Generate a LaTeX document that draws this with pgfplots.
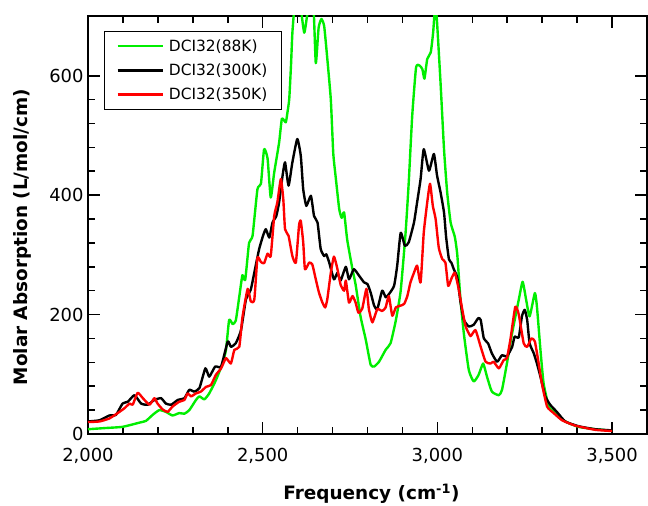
\documentclass[border=0pt]{standalone}
\usepackage{fontspec}
\setmainfont{DejaVu Sans}
\usepackage{pgfplots}
\pgfplotsset{compat=1.18}
\definecolor{cgreen}{RGB}{0,238,0}
\definecolor{cred}{RGB}{255,0,0}
\begin{document}
\begin{tikzpicture}
\useasboundingbox (-88bp,-72bp) rectangle (560bp,434bp);
\begin{axis}[
  at={(0,0)}, anchor=south west,
  scale only axis, width=559bp, height=418bp,
  xmin=2000, xmax=3600, ymin=0, ymax=700,
  xtick={2000,2500,3000,3500}, ytick={0,200,400,600},
  minor x tick num=4, minor y tick num=4,
  tick align=inside,
  major tick length=12bp, minor tick length=7bp,
  every tick/.style={line width=1.6pt, black},
  axis line style={line width=1.6pt},
  /pgf/number format/.cd, 1000 sep={,}, assume math mode=true, /pgfplots/.cd,
  tick label style={font=\fontsize{18}{21}\selectfont},
  xticklabel style={yshift=-11bp},
  yticklabel style={xshift=-1bp},
  xlabel={\textbf{Frequency (cm\textsuperscript{-1})}},
  ylabel={\textbf{Molar Absorption (L/mol/cm)}},
  label style={font=\fontsize{18.5}{22}\selectfont},
  xlabel style={at={(rel axis cs:0.507,0)}, anchor=center, yshift=-60bp},
  ylabel style={at={(rel axis cs:0,0.471)}, anchor=center, xshift=0bp, yshift=66bp},
  legend style={at={(rel axis cs:0.0286,0.964)}, anchor=north west,
    draw=black, line width=0.8pt, font=\fontsize{15.5}{18}\selectfont,
    inner xsep=12bp, inner ysep=6bp, row sep=7bp, cells={anchor=west}},
  legend image code/.code={\draw[#1, line width=2.6pt] (0bp,0bp) -- (45bp,0bp); \path (48bp,0bp);},
  every axis plot/.append style={line width=2.4pt, line join=round, smooth, tension=0.3},
]
\addplot[cgreen] coordinates {
(2000,8)(2050,10)(2099,12)(2147,19)(2166,22)(2185,32)(2204,40)(2223,37)(2242,31)(2261,35)
(2276,34)(2290,40)(2309,57)(2319,63)(2333,58)(2347,68)(2366,90)(2385,118)(2395,141)(2404,191)
(2414,184)(2423,190)(2433,230)(2442,266)(2450,258)(2461,320)(2471,332)(2485,410)(2495,419)(2504,477)
(2514,461)(2523,396)(2533,438)(2547,488)(2555,528)(2566,522)(2571,539)(2576,561)(2581,617)(2585,672)
(2592,720)(2605,730)(2619,672)(2632,720)(2645,720)(2652,621)(2660,680)(2668,695)(2676,683)(2685,628)
(2695,560)(2702,470)(2709,430)(2719,377)(2726,362)(2733,371)(2742,325)(2757,276)(2766,250)(2780,197)
(2795,158)(2809,116)(2819,113)(2833,121)(2852,141)(2866,152)(2881,190)(2895,240)(2909,337)(2918,421)
(2928,533)(2939,614)(2949,617)(2957,611)(2963,595)(2971,628)(2981,639)(2988,673)(2994,720)(2999,690)
(3009,589)(3019,477)(3028,405)(3038,354)(3050,330)(3057,300)(3066,226)(3076,167)(3090,107)(3104,88)
(3118,99)(3131,118)(3142,96)(3156,71)(3176,65)(3185,74)(3199,118)(3214,169)(3233,225)(3244,255)
(3254,225)(3264,197)(3279,236)(3285,213)(3295,141)(3304,85)(3319,46)(3338,35)(3366,21)(3404,12)
(3452,8)(3500,5.5)
};
\addlegendentry{DCI32(88K)}
\addplot[black] coordinates {
(2000,21)(2033,23)(2061,31)(2080,32)(2099,51)(2114,54)(2133,65)(2152,51)(2171,49)(2190,57)
(2209,60)(2223,51)(2238,49)(2257,57)(2276,60)(2290,74)(2304,71)(2319,77)(2336,110)(2347,96)
(2364,113)(2381,113)(2400,155)(2409,146)(2423,152)(2438,174)(2452,225)(2466,242)(2478,276)(2490,310)
(2501,332)(2509,343)(2519,329)(2528,354)(2539,365)(2547,388)(2557,433)(2564,455)(2574,416)(2585,455)
(2599,494)(2609,466)(2616,410)(2625,382)(2638,399)(2647,365)(2657,354)(2666,310)(2676,298)(2682,301)
(2690,288)(2704,259)(2714,270)(2723,257)(2738,280)(2747,259)(2761,276)(2776,265)(2790,254)(2800,251)
(2809,237)(2819,215)(2828,209)(2842,240)(2852,229)(2861,234)(2876,248)(2885,282)(2895,337)(2907,315)
(2918,321)(2933,354)(2942,388)(2952,427)(2961,477)(2976,441)(2990,469)(2999,433)(3009,405)(3019,371)
(3025,330)(3033,293)(3040,287)(3047,276)(3057,262)(3066,222)(3076,191)(3090,180)(3104,183)(3117,194)
(3124,191)(3133,160)(3145,152)(3156,135)(3171,121)(3185,132)(3199,130)(3214,146)(3221,163)(3233,162)
(3242,197)(3250,208)(3257,191)(3264,152)(3276,135)(3285,118)(3295,96)(3309,63)(3323,49)(3342,37)
(3366,21)(3404,13)(3452,8)(3500,6)
};
\addlegendentry{DCI32(300K)}
\addplot[cred] coordinates {
(2000,20)(2033,21)(2061,26)(2085,35)(2104,43)(2119,51)(2128,49)(2142,69)(2157,60)(2176,49)
(2190,60)(2199,51)(2214,41)(2228,37)(2242,46)(2261,54)(2276,57)(2285,68)(2295,63)(2309,68)
(2323,71)(2338,79)(2352,82)(2366,99)(2381,110)(2395,127)(2409,118)(2419,141)(2433,146)(2442,195)
(2457,243)(2466,222)(2476,225)(2485,295)(2495,288)(2504,286)(2514,302)(2523,298)(2533,365)(2542,388)
(2552,427)(2559,393)(2564,343)(2574,332)(2585,298)(2595,287)(2604,349)(2609,357)(2616,321)(2621,276)
(2633,287)(2642,284)(2652,259)(2661,237)(2671,220)(2679,212)(2685,226)(2695,270)(2704,297)(2714,276)
(2723,250)(2733,240)(2738,257)(2747,220)(2757,231)(2766,220)(2774,203)(2785,210)(2797,243)(2804,209)
(2814,187)(2828,209)(2842,206)(2852,212)(2861,231)(2871,198)(2881,212)(2895,215)(2905,218)(2914,231)
(2923,254)(2933,270)(2942,282)(2952,254)(2961,337)(2971,388)(2979,419)(2987,382)(2995,360)(3004,312)
(3014,293)(3023,287)(3031,248)(3040,260)(3050,270)(3061,243)(3071,209)(3081,180)(3095,164)(3109,174)
(3124,146)(3138,121)(3152,118)(3161,121)(3176,110)(3190,124)(3199,127)(3209,158)(3223,213)(3233,200)
(3247,152)(3257,146)(3269,160)(3279,155)(3290,118)(3299,85)(3314,46)(3333,35)(3357,23)(3395,14)
(3452,7)(3500,5)
};
\addlegendentry{DCI32(350K)}
\end{axis}
\end{tikzpicture}
\end{document}
